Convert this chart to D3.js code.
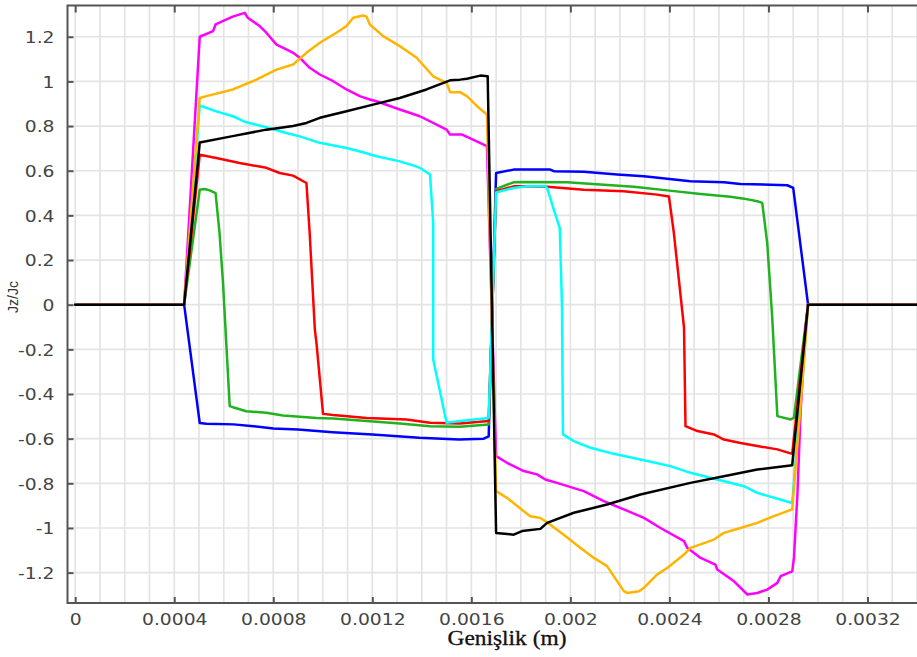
<!DOCTYPE html>
<html>
<head>
<meta charset="utf-8">
<script src="https://cdn.jsdelivr.net/npm/d3@7"></script>
<style>
  html, body { margin: 0; padding: 0; background: #fff; }
  svg { display: block; }
</style>
</head>
<body>
<svg id="chart" width="917" height="657"></svg>
<script>
// Normalised current density Jz/Jc across the width of two strips
const xTickValues = [0, 0.0004, 0.0008, 0.0012, 0.0016, 0.002, 0.0024, 0.0028, 0.0032];
const xTickLabels = ["0", "0.0004", "0.0008", "0.0012", "0.0016", "0.002", "0.0024", "0.0028", "0.0032"];
const yTickValues = [1.2, 1, 0.8, 0.6, 0.4, 0.2, 0, -0.2, -0.4, -0.6, -0.8, -1, -1.2];
const yTickLabels = ["1.2", "1", "0.8", "0.6", "0.4", "0.2", "0", "-0.2", "-0.4", "-0.6", "-0.8", "-1", "-1.2"];

const blueCurve = [[0,0],[0.00044,0],[0.000503,-0.53],[0.00053,-0.533],[0.00064,-0.536],[0.00072,-0.544],[0.0008,-0.554],[0.0009,-0.559],[0.00104,-0.571],[0.0012,-0.581],[0.00139,-0.596],[0.00155,-0.604],[0.00165,-0.6],[0.00167,-0.59],
  [0.0017,0.59],[0.001771,0.605],[0.001919,0.605],[0.001933,0.598],[0.002054,0.595],[0.002189,0.583],[0.002297,0.575],[0.002485,0.553],[0.00262,0.548],[0.002687,0.541],[0.002876,0.535],[0.0029,0.523],[0.00296,0],[0.0034,0]];

const greenCurve = [[0,0],[0.00044,0],[0.000503,0.515],[0.000523,0.518],[0.000543,0.512],[0.000567,0.5],[0.000583,0.32],[0.000597,0.097],[0.000624,-0.454],[0.000637,-0.459],[0.000691,-0.477],[0.000772,-0.484],[0.000839,-0.496],[0.000975,-0.507],[0.001042,-0.51],[0.001177,-0.521],[0.001311,-0.532],[0.001433,-0.544],[0.001554,-0.547],[0.00167,-0.537],
  [0.0017,0.519],[0.001771,0.548],[0.001812,0.55],[0.001987,0.548],[0.002121,0.538],[0.002256,0.528],[0.002391,0.512],[0.002526,0.496],[0.002647,0.483],[0.002701,0.475],[0.002755,0.463],[0.002775,0.456],[0.002795,0.277],[0.002815,-0.052],[0.002836,-0.499],[0.00289,-0.514],[0.002903,-0.506],[0.00296,0],[0.0034,0]];

const redCurve = [[0,0],[0.00044,0],[0.000503,0.672],[0.00057,0.657],[0.000664,0.635],[0.000772,0.613],[0.000826,0.59],[0.00088,0.578],[0.000934,0.545],[0.000947,0.321],[0.000968,-0.112],[0.000975,-0.178],[0.001001,-0.489],[0.001042,-0.494],[0.001177,-0.507],[0.001338,-0.514],[0.001433,-0.529],[0.001554,-0.532],[0.00167,-0.521],
  [0.0017,0.508],[0.001771,0.53],[0.001812,0.53],[0.001906,0.528],[0.002054,0.515],[0.002216,0.508],[0.00235,0.493],[0.002398,0.485],[0.002418,0.321],[0.002459,-0.103],[0.002465,-0.544],[0.002513,-0.566],[0.00258,-0.581],[0.00262,-0.604],[0.002687,-0.619],[0.002755,-0.633],[0.002836,-0.648],[0.002896,-0.668],[0.00296,0],[0.0034,0]];

const cyanCurve = [[0,0],[0.00044,0],[0.000503,0.892],[0.00057,0.866],[0.000637,0.844],[0.000691,0.817],[0.000772,0.795],[0.000853,0.769],[0.000907,0.754],[0.000988,0.725],[0.001096,0.702],[0.001163,0.683],[0.001217,0.665],[0.001311,0.642],[0.001365,0.624],[0.001392,0.613],[0.001433,0.583],[0.001446,0.366],[0.001446,-0.245],[0.0015,-0.529],[0.001554,-0.521],[0.00167,-0.507],
  [0.0017,0.503],[0.001771,0.523],[0.001825,0.53],[0.001899,0.53],[0.001906,0.523],[0.001933,0.426],[0.001957,0.344],[0.001966,0.0],[0.00197,-0.581],[0.002014,-0.611],[0.002081,-0.641],[0.002175,-0.668],[0.002283,-0.693],[0.002404,-0.723],[0.002485,-0.753],[0.002593,-0.783],[0.002701,-0.813],[0.002755,-0.843],[0.002896,-0.888],[0.00296,0],[0.0034,0]];

const magentaCurve = [[0,0],[0.00044,0],[0.000503,1.2],[0.000557,1.225],[0.000567,1.255],[0.000636,1.29],[0.000685,1.307],[0.000697,1.285],[0.000745,1.248],[0.000772,1.218],[0.000813,1.165],[0.000853,1.143],[0.00088,1.128],[0.000907,1.106],[0.000947,1.061],[0.000988,1.031],[0.001042,1.001],[0.001096,0.964],[0.001149,0.934],[0.00119,0.919],[0.001217,0.911],[0.001311,0.874],[0.001392,0.844],[0.0015,0.784],[0.001514,0.762],[0.001563,0.762],[0.001663,0.71],
  [0.0017,-0.678],[0.001744,-0.708],[0.001812,-0.745],[0.001865,-0.76],[0.001899,-0.783],[0.001946,-0.798],[0.002054,-0.835],[0.002135,-0.88],[0.002216,-0.917],[0.002297,-0.955],[0.002364,-1.0],[0.002459,-1.059],[0.002472,-1.089],[0.002526,-1.134],[0.002586,-1.164],[0.002593,-1.186],[0.002661,-1.239],[0.002715,-1.298],[0.002755,-1.291],[0.002795,-1.276],[0.002836,-1.246],[0.002849,-1.216],[0.002896,-1.194],[0.002903,-1.134],[0.002917,-0.85],[0.00293,-0.476],[0.00295,-0.103],[0.00296,0],[0.0034,0]];

const orangeCurve = [[0,0],[0.00044,0],[0.000503,0.926],[0.00053,0.934],[0.000637,0.964],[0.000732,1.008],[0.000813,1.053],[0.00088,1.076],[0.000934,1.128],[0.000988,1.173],[0.001055,1.218],[0.001096,1.248],[0.001123,1.285],[0.001163,1.295],[0.001177,1.29],[0.00119,1.255],[0.001244,1.203],[0.001311,1.158],[0.001379,1.106],[0.001446,1.023],[0.0015,0.994],[0.001514,0.952],[0.001554,0.952],[0.001582,0.934],[0.001623,0.889],[0.001663,0.852],
  [0.0017,-0.835],[0.001744,-0.865],[0.001812,-0.925],[0.001838,-0.947],[0.001879,-0.955],[0.001919,-0.985],[0.001973,-1.03],[0.00204,-1.089],[0.002095,-1.134],[0.002148,-1.171],[0.002216,-1.283],[0.002229,-1.291],[0.002277,-1.283],[0.002297,-1.268],[0.00235,-1.209],[0.002391,-1.179],[0.002459,-1.119],[0.002485,-1.089],[0.00258,-1.052],[0.00262,-1.022],[0.002687,-1.0],[0.002755,-0.977],[0.002822,-0.947],[0.002896,-0.917],[0.002903,-0.82],[0.002944,-0.252],[0.00296,0],[0.0034,0]];

const blackCurve = [[0,0],[0.00044,0],[0.000503,0.726],[0.000636,0.755],[0.000772,0.784],[0.00088,0.8],[0.000934,0.814],[0.000988,0.837],[0.001096,0.866],[0.001203,0.896],[0.001311,0.926],[0.001419,0.964],[0.001514,1.005],[0.001554,1.008],[0.001582,1.012],[0.001636,1.026],[0.001666,1.023],
  [0.0017,-1.022],[0.001771,-1.03],[0.001805,-1.014],[0.001879,-1.004],[0.001906,-0.977],[0.002014,-0.932],[0.002148,-0.895],[0.002283,-0.85],[0.002485,-0.798],[0.00262,-0.768],[0.002755,-0.738],[0.002896,-0.719],[0.00296,0],[0.0034,0]];

const seriesColors = ["#0000ff", "#1fb31f", "#ff0000", "#00ffff", "#ff00ff", "#ffb400", "#000000"];
const seriesData = [blueCurve, greenCurve, redCurve, cyanCurve, magentaCurve, orangeCurve, blackCurve];

const svg = d3.select("#chart");
const plot = { left: 67.5, right: 917, top: 5.5, bottom: 603 };
const stretch = 1.17;

const x = d3.scaleLinear().domain([-0.0000311, 0.0034]).range([plot.left, plot.right]);
const y = d3.scaleLinear().domain([-1.336, 1.34]).range([plot.bottom, plot.top]);

svg.append("defs").append("clipPath").attr("id", "plotClip")
  .append("rect")
  .attr("x", plot.left).attr("y", plot.top)
  .attr("width", plot.right - plot.left).attr("height", plot.bottom - plot.top);

// grid
const grid = svg.append("g").attr("stroke", "#e4e4e4").attr("stroke-width", 1.7);
grid.selectAll("line.v").data(d3.range(0, 35).map(i => i * 0.0001)).join("line")
  .attr("x1", d => x(d)).attr("x2", d => x(d))
  .attr("y1", plot.top).attr("y2", plot.bottom);
grid.selectAll("line.h").data(yTickValues).join("line")
  .attr("x1", plot.left).attr("x2", plot.right)
  .attr("y1", d => y(d)).attr("y2", d => y(d));

// curves
const line = d3.line().x(d => x(d[0])).y(d => y(d[1]));
svg.append("g").attr("clip-path", "url(#plotClip)")
  .selectAll("path").data(seriesData).join("path")
  .attr("d", line)
  .attr("fill", "none")
  .attr("stroke", (d, i) => seriesColors[i])
  .attr("stroke-width", 2.5)
  .attr("stroke-linejoin", "round")
  .attr("stroke-linecap", "round");

// frame
const frameColor = "#555";
svg.append("path")
  .attr("d", `M${plot.right},${plot.top}H${plot.left}V${plot.bottom}H${plot.right}`)
  .attr("fill", "none").attr("stroke", frameColor).attr("stroke-width", 2);

// axes with inward ticks
const fmtX = d => xTickLabels[xTickValues.indexOf(d)];
const fmtY = d => yTickLabels[yTickValues.indexOf(d)];

const bottomAxis = svg.append("g").attr("transform", `translate(0,${plot.bottom})`)
  .call(d3.axisBottom(x).tickValues(xTickValues).tickFormat(fmtX).tickSizeInner(-6).tickSizeOuter(0).tickPadding(16));
const topAxis = svg.append("g").attr("transform", `translate(0,${plot.top})`)
  .call(d3.axisTop(x).tickValues(xTickValues).tickFormat("").tickSizeInner(-7).tickSizeOuter(0));
const leftAxis = svg.append("g").attr("transform", `translate(${plot.left},0)`)
  .call(d3.axisLeft(y).tickValues(yTickValues).tickFormat(fmtY).tickSizeInner(-6).tickSizeOuter(0).tickPadding(13));

[bottomAxis, topAxis, leftAxis].forEach(g => {
  g.select(".domain").remove();
  g.selectAll(".tick line").attr("stroke", frameColor).attr("stroke-width", 2);
  g.selectAll(".tick text")
    .attr("fill", "#444")
    .style("font-family", "'DejaVu Sans', sans-serif")
    .style("font-size", "16px");
});
bottomAxis.selectAll(".tick text").attr("dy", 0).attr("y", 22);
leftAxis.selectAll(".tick text").attr("dy", "0.36em");

// widen glyphs horizontally
function widen(sel) {
  sel.each(function () {
    const w = this.getComputedTextLength();
    d3.select(this).attr("textLength", w * stretch).attr("lengthAdjust", "spacingAndGlyphs");
  });
}
widen(bottomAxis.selectAll(".tick text"));
widen(leftAxis.selectAll(".tick text"));

// axis titles
const xTitle = svg.append("text")
  .attr("x", 507).attr("y", 645)
  .attr("text-anchor", "middle")
  .attr("fill", "#111")
  .attr("stroke", "#111").attr("stroke-width", 0.3)
  .style("font-family", "'Liberation Serif', 'Times New Roman', serif")
  .style("font-size", "20px")
  .text("Genişlik (m)");
widen(xTitle);

svg.append("text")
  .attr("transform", "translate(18,297) rotate(-90)")
  .attr("text-anchor", "middle")
  .attr("fill", "#333")
  .style("font-family", "'Liberation Sans', Arial, sans-serif")
  .style("font-size", "14px")
  .text("Jz/Jc");
</script>
</body>
</html>
